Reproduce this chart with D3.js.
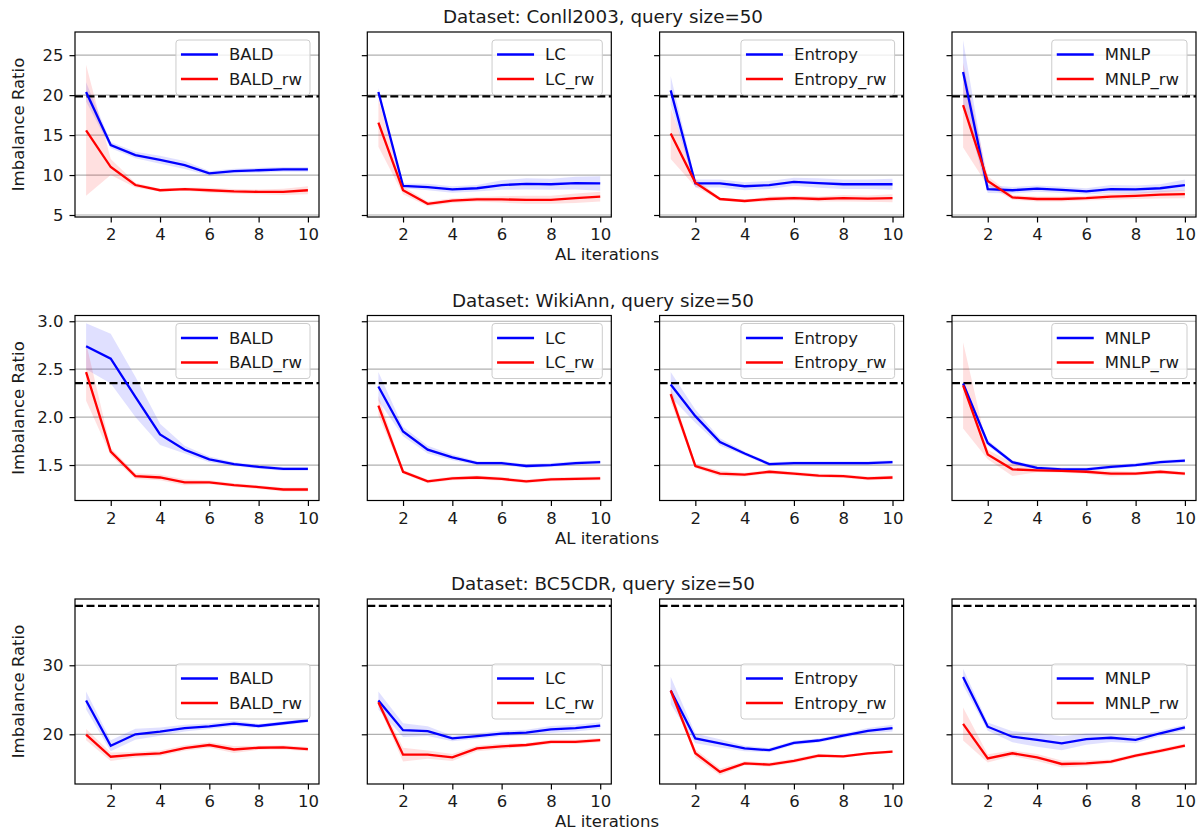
<!DOCTYPE html>
<html>
<head>
<meta charset="utf-8">
<script src="https://cdn.jsdelivr.net/npm/d3@7"></script>
<style>
  body { margin: 0; background: white; }
  text { font-family: "DejaVu Sans", sans-serif; }
</style>
</head>
<body>
<div id="chart"></div>
<script>
// ---- data ----
var iterations = [1, 2, 3, 4, 5, 6, 7, 8, 9, 10];
var xTicks = [2, 4, 6, 8, 10];
var methods = ["BALD", "LC", "Entropy", "MNLP"];
var datasets = ["Conll2003", "WikiAnn", "BC5CDR"];
var baselines = [19.85, 2.355, 38.6];

// Conll2003
var conllBALD = [20.4, 13.75, 12.5, 11.9, 11.25, 10.2, 10.5, 10.6, 10.7, 10.7];
var conllBALDsd = [1.2, 0.4, 0.4, 0.5, 0.5, 0.3, 0.3, 0.3, 0.3, 0.3];
var conllBALDrw = [15.6, 11.0, 8.75, 8.1, 8.25, 8.1, 7.95, 7.9, 7.9, 8.1];
var conllBALDrwsd = [8.2, 1.0, 0.3, 0.2, 0.2, 0.3, 0.3, 0.3, 0.4, 0.5];
var conllLC = [20.4, 8.65, 8.5, 8.2, 8.35, 8.75, 8.9, 8.85, 9.0, 8.95];
var conllLCsd = [0.5, 0.3, 0.4, 0.4, 0.4, 0.6, 0.7, 0.7, 0.8, 0.9];
var conllLCrw = [16.55, 8.1, 6.4, 6.8, 6.95, 6.95, 6.9, 6.9, 7.1, 7.3];
var conllLCrwsd = [3.0, 0.5, 0.3, 0.3, 0.3, 0.4, 0.5, 0.5, 0.6, 0.6];
var conllEntropy = [20.6, 8.95, 8.95, 8.6, 8.75, 9.15, 9.0, 8.85, 8.85, 8.85];
var conllEntropysd = [1.8, 0.5, 0.5, 0.5, 0.5, 0.5, 0.6, 0.6, 0.6, 0.7];
var conllEntropyrw = [15.2, 9.05, 7.0, 6.75, 7.0, 7.1, 7.0, 7.1, 7.05, 7.1];
var conllEntropyrwsd = [3.2, 0.5, 0.2, 0.2, 0.3, 0.3, 0.3, 0.4, 0.4, 0.5];
var conllMNLP = [22.9, 8.25, 8.1, 8.3, 8.15, 7.95, 8.25, 8.2, 8.35, 8.75];
var conllMNLPsd = [4.0, 0.5, 0.4, 0.4, 0.4, 0.4, 0.5, 0.5, 0.5, 0.7];
var conllMNLPrw = [18.75, 9.25, 7.2, 7.0, 7.0, 7.1, 7.3, 7.4, 7.55, 7.6];
var conllMNLPrwsd = [5.3, 0.6, 0.3, 0.3, 0.3, 0.3, 0.4, 0.4, 0.5, 0.5];

// WikiAnn
var wikiBALD = [2.74, 2.61, 2.21, 1.82, 1.66, 1.56, 1.51, 1.48, 1.46, 1.46];
var wikiBALDsd = [0.24, 0.26, 0.21, 0.11, 0.04, 0.03, 0.02, 0.02, 0.02, 0.02];
var wikiBALDrw = [2.47, 1.64, 1.385, 1.37, 1.32, 1.32, 1.29, 1.27, 1.245, 1.245];
var wikiBALDrwsd = [0.3, 0.04, 0.03, 0.03, 0.03, 0.02, 0.02, 0.02, 0.02, 0.02];
var wikiLC = [2.32, 1.85, 1.66, 1.58, 1.52, 1.52, 1.49, 1.5, 1.52, 1.53];
var wikiLCsd = [0.15, 0.05, 0.04, 0.03, 0.02, 0.02, 0.02, 0.02, 0.02, 0.02];
var wikiLCrw = [2.12, 1.43, 1.33, 1.36, 1.37, 1.355, 1.33, 1.35, 1.355, 1.36];
var wikiLCrwsd = [0.1, 0.02, 0.02, 0.02, 0.02, 0.02, 0.02, 0.02, 0.02, 0.02];
var wikiEntropy = [2.34, 2.01, 1.74, 1.62, 1.51, 1.52, 1.52, 1.52, 1.52, 1.53];
var wikiEntropysd = [0.13, 0.07, 0.04, 0.02, 0.02, 0.02, 0.02, 0.02, 0.02, 0.02];
var wikiEntropyrw = [2.24, 1.49, 1.41, 1.40, 1.43, 1.41, 1.39, 1.385, 1.36, 1.37];
var wikiEntropyrwsd = [0.08, 0.02, 0.03, 0.02, 0.02, 0.02, 0.02, 0.02, 0.02, 0.02];
var wikiMNLP = [2.35, 1.73, 1.53, 1.47, 1.455, 1.455, 1.48, 1.5, 1.53, 1.545];
var wikiMNLPsd = [0.03, 0.03, 0.02, 0.02, 0.02, 0.02, 0.02, 0.02, 0.02, 0.02];
var wikiMNLPrw = [2.33, 1.61, 1.455, 1.445, 1.44, 1.43, 1.41, 1.41, 1.43, 1.41];
var wikiMNLPrwsd = [0.45, 0.05, 0.07, 0.02, 0.02, 0.02, 0.03, 0.02, 0.02, 0.02];

// BC5CDR
var bcBALD = [24.9, 18.35, 20.0, 20.4, 20.9, 21.15, 21.55, 21.2, 21.6, 22.0];
var bcBALDsd = [1.3, 0.8, 0.8, 0.6, 0.5, 0.4, 0.4, 0.3, 0.3, 0.3];
var bcBALDrw = [19.95, 16.75, 17.05, 17.25, 18.0, 18.45, 17.8, 18.05, 18.1, 17.85];
var bcBALDrwsd = [0.8, 0.6, 0.4, 0.4, 0.4, 0.4, 0.5, 0.3, 0.3, 0.3];
var bcLC = [24.9, 20.6, 20.45, 19.4, 19.75, 20.1, 20.25, 20.7, 20.9, 21.25];
var bcLCsd = [1.3, 1.0, 0.7, 0.4, 0.4, 0.4, 0.4, 0.5, 0.5, 0.5];
var bcLCrw = [24.65, 17.05, 17.05, 16.65, 17.95, 18.25, 18.45, 18.9, 18.9, 19.15];
var bcLCrwsd = [0.5, 1.0, 0.6, 0.5, 0.4, 0.4, 0.3, 0.3, 0.3, 0.3];
var bcEntropy = [26.35, 19.4, 18.7, 17.95, 17.7, 18.75, 19.1, 19.8, 20.5, 20.9];
var bcEntropysd = [2.0, 0.7, 0.6, 0.4, 0.3, 0.3, 0.3, 0.3, 0.4, 0.5];
var bcEntropyrw = [26.35, 17.25, 14.55, 15.8, 15.6, 16.15, 16.9, 16.8, 17.25, 17.5];
var bcEntropyrwsd = [0.5, 0.6, 0.5, 0.3, 0.3, 0.3, 0.3, 0.2, 0.2, 0.2];
var bcMNLP = [28.3, 21.1, 19.65, 19.2, 18.7, 19.3, 19.5, 19.2, 20.15, 21.0];
var bcMNLPsd = [1.2, 0.6, 0.8, 1.0, 1.0, 0.8, 0.6, 0.5, 0.4, 0.4];
var bcMNLPrw = [21.5, 16.5, 17.25, 16.65, 15.7, 15.8, 16.05, 16.9, 17.6, 18.35];
var bcMNLPrwsd = [2.4, 0.6, 0.4, 0.5, 0.5, 0.4, 0.3, 0.3, 0.3, 0.3];

var yTicks = [[5, 10, 15, 20, 25], [1.5, 2.0, 2.5, 3.0], [20, 30]];

// series table: [row][col] -> [base, baseSd, rw, rwSd]
var series = [
  [[conllBALD, conllBALDsd, conllBALDrw, conllBALDrwsd],
   [conllLC, conllLCsd, conllLCrw, conllLCrwsd],
   [conllEntropy, conllEntropysd, conllEntropyrw, conllEntropyrwsd],
   [conllMNLP, conllMNLPsd, conllMNLPrw, conllMNLPrwsd]],
  [[wikiBALD, wikiBALDsd, wikiBALDrw, wikiBALDrwsd],
   [wikiLC, wikiLCsd, wikiLCrw, wikiLCrwsd],
   [wikiEntropy, wikiEntropysd, wikiEntropyrw, wikiEntropyrwsd],
   [wikiMNLP, wikiMNLPsd, wikiMNLPrw, wikiMNLPrwsd]],
  [[bcBALD, bcBALDsd, bcBALDrw, bcBALDrwsd],
   [bcLC, bcLCsd, bcLCrw, bcLCrwsd],
   [bcEntropy, bcEntropysd, bcEntropyrw, bcEntropyrwsd],
   [bcMNLP, bcMNLPsd, bcMNLPrw, bcMNLPrwsd]]
];

// ---- layout ----
var svgWidth = 1203;
var svgHeight = 834;
var panelW = 244;
var panelH = 185;
var colLeft = [75, 367.3, 659.6, 952];
var rowTop = [32, 315.5, 599];
var yDomains = [[4.75, 27.9], [1.13, 3.06], [12.8, 39.6]];
var yFormats = [d3.format("d"), d3.format(".1f"), d3.format("d")];
var legendTop = [8, 8, 65];
var fontSize = "16.5px";
var textColor = "#1a1a1a";

var svg = d3.select("#chart")
  .append("svg")
  .attr("width", svgWidth)
  .attr("height", svgHeight);

var xScale = d3.scaleLinear()
  .domain([0.55, 10.45])
  .range([0, panelW]);

var line = function(y, vals) {
  return d3.line()
    .x((d, i) => xScale(iterations[i]))
    .y(d => y(d))(vals);
};

var band = function(y, vals, sd) {
  return d3.area()
    .x((d, i) => xScale(iterations[i]))
    .y0((d, i) => y(d - sd[i]))
    .y1((d, i) => y(d + sd[i]))(vals);
};

svg.append("defs").append("clipPath")
  .attr("id", "clip")
  .append("rect")
  .attr("width", panelW)
  .attr("height", panelH);

datasets.forEach(function(ds, r) {
  var yScale = d3.scaleLinear()
    .domain(yDomains[r])
    .range([panelH, 0]);

  // row title
  svg.append("text")
    .attr("x", 603)
    .attr("y", rowTop[r] - 9)
    .attr("text-anchor", "middle")
    .style("font-size", "18.3px")
    .attr("fill", textColor)
    .text("Dataset: " + ds + ", query size=50");

  // x label
  svg.append("text")
    .attr("x", 607)
    .attr("y", rowTop[r] + panelH + 43)
    .attr("text-anchor", "middle")
    .style("font-size", fontSize)
    .attr("fill", textColor)
    .text("AL iterations");

  // y label
  svg.append("text")
    .attr("transform", `translate(24, ${rowTop[r] + panelH / 2}) rotate(-90)`)
    .attr("text-anchor", "middle")
    .style("font-size", fontSize)
    .attr("fill", textColor)
    .text("Imbalance Ratio");

  methods.forEach(function(m, c) {
    var s = series[r][c];
    var g = svg.append("g")
      .attr("transform", `translate(${colLeft[c]}, ${rowTop[r]})`);

    // grid
    g.append("g")
      .selectAll("line")
      .data(yTicks[r])
      .enter()
      .append("line")
      .attr("x1", 0)
      .attr("x2", panelW)
      .attr("y1", d => yScale(d))
      .attr("y2", d => yScale(d))
      .attr("stroke", "#b0b0b0")
      .attr("stroke-width", 1.2);

    var plot = g.append("g").attr("clip-path", "url(#clip)");

    plot.append("path")
      .attr("d", band(yScale, s[0], s[1]))
      .attr("fill", "blue")
      .attr("fill-opacity", 0.12);
    plot.append("path")
      .attr("d", band(yScale, s[2], s[3]))
      .attr("fill", "red")
      .attr("fill-opacity", 0.12);

    plot.append("line")
      .attr("x1", 0)
      .attr("x2", panelW)
      .attr("y1", yScale(baselines[r]))
      .attr("y2", yScale(baselines[r]))
      .attr("stroke", "black")
      .attr("stroke-width", 2.3)
      .attr("stroke-dasharray", "8,3.5");

    plot.append("path")
      .attr("d", line(yScale, s[0]))
      .attr("fill", "none")
      .attr("stroke", "blue")
      .attr("stroke-width", 2.3);
    plot.append("path")
      .attr("d", line(yScale, s[2]))
      .attr("fill", "none")
      .attr("stroke", "red")
      .attr("stroke-width", 2.3);

    // axes
    var xAxis = d3.axisBottom(xScale)
      .tickValues(xTicks)
      .tickSize(5.5)
      .tickPadding(6);
    var xAxisG = g.append("g")
      .attr("transform", `translate(0, ${panelH})`)
      .call(xAxis);
    xAxisG.select(".domain").remove();
    xAxisG.selectAll("line").attr("stroke-width", 1.2);
    xAxisG.selectAll("text")
      .style("font-size", fontSize)
      .attr("fill", textColor);

    var yAxis = d3.axisLeft(yScale)
      .tickValues(yTicks[r])
      .tickSize(5.5)
      .tickPadding(6)
      .tickFormat(c === 0 ? yFormats[r] : "");
    var yAxisG = g.append("g").call(yAxis);
    yAxisG.select(".domain").remove();
    yAxisG.selectAll("line").attr("stroke-width", 1.2);
    yAxisG.selectAll("text")
      .style("font-size", fontSize)
      .attr("fill", textColor);

    g.append("rect")
      .attr("width", panelW)
      .attr("height", panelH)
      .attr("fill", "none")
      .attr("stroke", "black")
      .attr("stroke-width", 1.2);

    // legend
    var leg = g.append("g");
    var box = leg.append("rect")
      .attr("rx", 3)
      .attr("fill", "white")
      .attr("fill-opacity", 0.8)
      .attr("stroke", "#cccccc")
      .attr("stroke-width", 1);
    var labels = [m, m + "_rw"];
    var colors = ["blue", "red"];
    var maxW = 0;
    labels.forEach(function(lab, k) {
      leg.append("line")
        .attr("x1", 5)
        .attr("x2", 42)
        .attr("y1", 14.5 + k * 24.5)
        .attr("y2", 14.5 + k * 24.5)
        .attr("stroke", colors[k])
        .attr("stroke-width", 2.3);
      var t = leg.append("text")
        .attr("x", 53)
        .attr("y", 14.5 + k * 24.5)
        .attr("dy", "0.36em")
        .style("font-size", fontSize)
        .attr("fill", textColor)
        .text(lab);
      maxW = Math.max(maxW, t.node().getComputedTextLength());
    });
    var legW = 53 + maxW + 8;
    box.attr("width", legW).attr("height", 55);
    leg.attr("transform", `translate(${panelW - 9 - legW}, ${legendTop[r]})`);
  });
});
</script>
</body>
</html>
